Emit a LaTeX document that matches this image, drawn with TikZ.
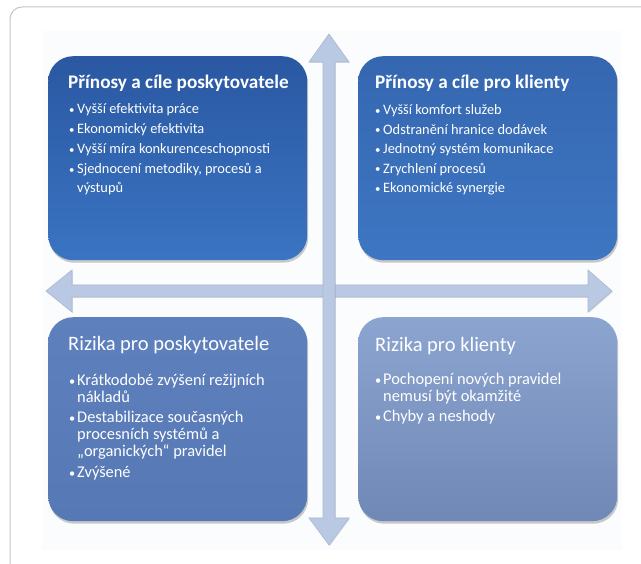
\documentclass[tikz,border=0pt]{standalone}
\usepackage{fontspec}
\setmainfont{Carlito}
\usetikzlibrary{shadows}

\definecolor{tlTop}{HTML}{2A58A2}
\definecolor{tlBot}{HTML}{3A74C2}
\definecolor{trTop}{HTML}{3567B0}
\definecolor{trBot}{HTML}{3E76C3}
\definecolor{blTop}{HTML}{5E80BC}
\definecolor{blBot}{HTML}{5678B4}
\definecolor{brTop}{HTML}{8CA4D0}
\definecolor{brBot}{HTML}{7088B5}
\definecolor{arrowc}{HTML}{B9C9E3}
\definecolor{arrowedge}{HTML}{A9B8D0}
\definecolor{framegray}{HTML}{C6C6C6}
\definecolor{panelbg}{HTML}{FBFCFD}

\tikzset{
  quad/.style={rounded corners=25pt, inner sep=0pt, anchor=north west,
    minimum width=259pt, minimum height=204pt,
    drop shadow={shadow xshift=1pt, shadow yshift=-2.5pt, opacity=0.35, fill=black!60}},
  headbold/.style={anchor=base west, inner sep=0pt, text=white,
    font=\fontsize{19.2}{22}\selectfont\bfseries},
  headplain/.style={anchor=base west, inner sep=0pt, text=white,
    font=\fontsize{20.5}{23}\selectfont},
  smallline/.style={anchor=base west, inner sep=0pt, text=white,
    font=\fontsize{14.4}{17}\selectfont},
  largeline/.style={anchor=base west, inner sep=0pt, text=white,
    font=\fontsize{16.4}{19}\selectfont},
  crossarrow/.style={fill=arrowc, draw=arrowedge, line width=0.6pt,
    drop shadow={shadow xshift=0.8pt, shadow yshift=-1pt, opacity=0.25, fill=black!50}},
}
% small bullet followed by the item text
\newcommand{\bul}{\makebox[8pt][l]{\raisebox{0.12ex}{\scalebox{0.75}{•}}}}

\begin{document}
\begin{tikzpicture}[x=1pt, y=-1pt]
  \useasboundingbox (0,0) rectangle (641,564);
  \fill[white] (0,0) rectangle (641,564);

  % page frame and panel
  \draw[framegray, line width=1pt, rounded corners=12pt] (10,7) rectangle (680,600);
  \fill[panelbg] (42,31) rectangle (622,550);

  % crossing axes
  \path[crossarrow] (46,291) -- (72,270) -- (72,285) -- (588,285) -- (588,270)
    -- (612,291) -- (588,312) -- (588,297) -- (72,297) -- (72,312) -- cycle;
  \path[crossarrow] (329,34) -- (349,62) -- (335,62) -- (335,518) -- (349,518)
    -- (329,545) -- (309,518) -- (323,518) -- (323,62) -- (309,62) -- cycle;

  % four quadrants
  \node[quad, top color=tlTop, bottom color=tlBot] (tl) at (48,56) {};
  \node[quad, top color=trTop, bottom color=trBot] (tr) at (358,56) {};
  \node[quad, top color=blTop, bottom color=blBot] (bl) at (48,317) {};
  \node[quad, top color=brTop, bottom color=brBot] (br) at (358,317) {};

  % top left
  \node[headbold] (tlh) at (68,89) {Přínosy a cíle poskytovatele};
  \node[smallline] (tl1) at (69,114) {\bul Vyšší efektivita práce};
  \node[smallline] (tl2) at (69,134) {\bul Ekonomický efektivita};
  \node[smallline] (tl3) at (69,154) {\bul Vyšší míra konkurenceschopnosti};
  \node[smallline] (tl4) at (69,174) {\bul Sjednocení metodiky, procesů a};
  \node[smallline] (tl5) at (77,193) {výstupů};

  % top right
  \node[headbold] (trh) at (375,89) {Přínosy a cíle pro klienty};
  \node[smallline] (tr1) at (375,115) {\bul Vyšší komfort služeb};
  \node[smallline] (tr2) at (375,134.5) {\bul Odstranění hranice dodávek};
  \node[smallline] (tr3) at (375,154) {\bul Jednotný systém komunikace};
  \node[smallline] (tr4) at (375,173.5) {\bul Zrychlení procesů};
  \node[smallline] (tr5) at (375,193) {\bul Ekonomické synergie};

  % bottom left
  \node[headplain] (blh) at (68,351) {Rizika pro poskytovatele};
  \node[largeline] (bl1) at (69,386) {\bul Krátkodobé zvýšení režijních};
  \node[largeline] (bl2) at (77,403) {nákladů};
  \node[largeline] (bl3) at (69,423) {\bul Destabilizace současných};
  \node[largeline] (bl4) at (77,440) {procesních systémů a};
  \node[largeline] (bl5) at (77,457) {„organických“ pravidel};
  \node[largeline] (bl6) at (69,478) {\bul Zvýšené};

  % bottom right
  \node[headplain] (brh) at (375,352) {Rizika pro klienty};
  \node[largeline] (br1) at (375,385) {\bul Pochopení nových pravidel};
  \node[largeline] (br2) at (383,402) {nemusí být okamžité};
  \node[largeline] (br3) at (375,422) {\bul Chyby a neshody};
\end{tikzpicture}
\end{document}
